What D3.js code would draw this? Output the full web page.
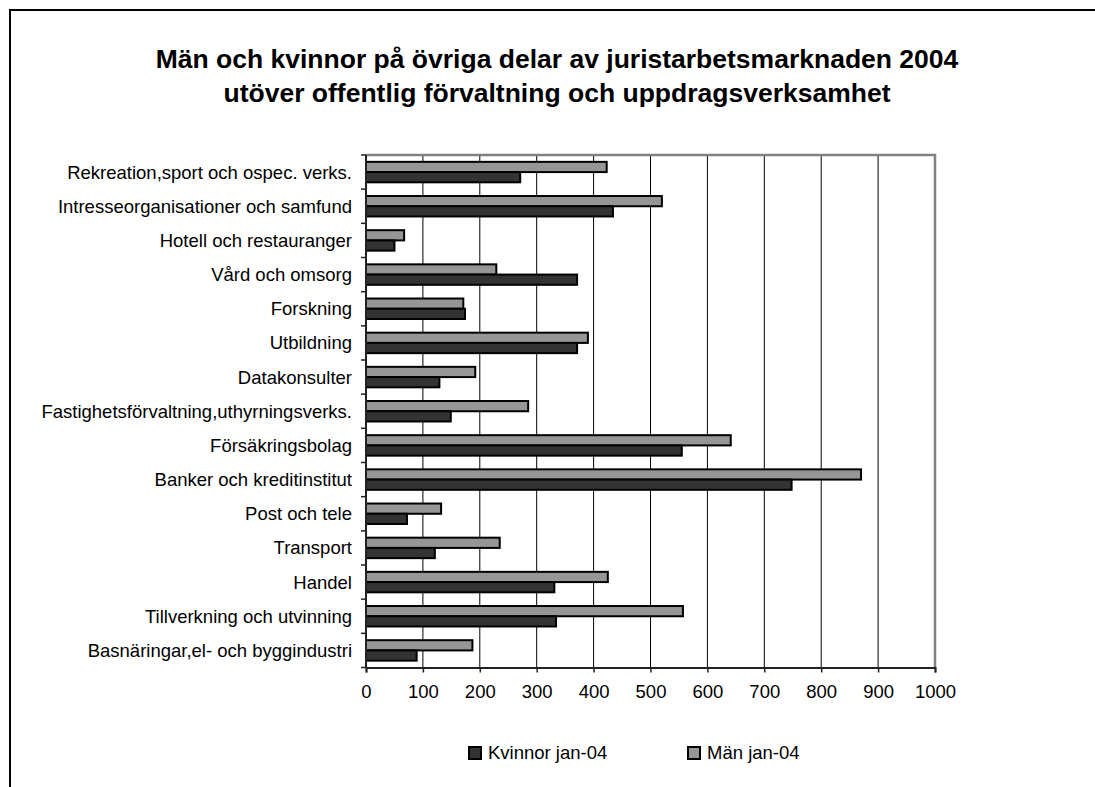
<!DOCTYPE html>
<html>
<head>
<meta charset="utf-8">
<script src="https://cdn.jsdelivr.net/npm/d3@7"></script>
<style>
	body { margin: 0; background: #fff; }
	svg { display: block; font-family: "Liberation Sans", Arial, sans-serif; }
</style>
</head>
<body>
<div id="chart"></div>
<script>
// categories, top to bottom
const categories = [
	"Rekreation,sport och ospec. verks.",
	"Intresseorganisationer och samfund",
	"Hotell och restauranger",
	"Vård och omsorg",
	"Forskning",
	"Utbildning",
	"Datakonsulter",
	"Fastighetsförvaltning,uthyrningsverks.",
	"Försäkringsbolag",
	"Banker och kreditinstitut",
	"Post och tele",
	"Transport",
	"Handel",
	"Tillverkning och utvinning",
	"Basnäringar,el- och byggindustri"
];
const kvinnor = [271, 434, 50, 371, 174, 371, 129, 149, 555, 748, 72, 121, 331, 334, 89];
const man = [423, 520, 67, 229, 171, 390, 192, 285, 641, 870, 132, 235, 425, 557, 187];
const xTicks = [0, 100, 200, 300, 400, 500, 600, 700, 800, 900, 1000];
const titleLines = [
	"Män och kvinnor på övriga delar av juristarbetsmarknaden 2004",
	"utöver offentlig förvaltning och uppdragsverksamhet"
];
const seriesNames = ["Kvinnor jan-04", "Män jan-04"];
const seriesColors = ["#333333", "#969696"];

const W = 1095, H = 787;
const plot = { left: 366, right: 935, top: 155, bottom: 667.5 };

const svg = d3.select("#chart").append("svg")
	.attr("width", W)
	.attr("height", H);

// outer chart frame (only top/left visible)
svg.append("rect")
	.attr("x", 10).attr("y", 10)
	.attr("width", 1200).attr("height", 900)
	.attr("fill", "none")
	.attr("stroke", "#000")
	.attr("stroke-width", 2);

// title
svg.append("g").selectAll("text")
	.data(titleLines)
	.join("text")
	.attr("x", 557)
	.attr("y", (d, i) => 68 + i * 34)
	.attr("text-anchor", "middle")
	.attr("font-size", 26.5)
	.attr("font-weight", "bold")
	.text(d => d);

const x = d3.scaleLinear().domain([0, 1000]).range([plot.left, plot.right]);
const y = d3.scaleBand().domain(categories).range([plot.top, plot.bottom]);
// two bars per category, with gap around them
const inner = d3.scaleBand().domain(["man", "kvinnor"]).range([0, y.bandwidth()]).paddingOuter(0.67);

// grid lines
svg.append("g").selectAll("line")
	.data(xTicks.filter(d => d > 0 && d < 1000))
	.join("line")
	.attr("x1", d => x(d)).attr("x2", d => x(d))
	.attr("y1", plot.top).attr("y2", plot.bottom)
	.attr("stroke", "#000")
	.attr("stroke-width", 1);

// plot border top/right
svg.append("path")
	.attr("d", `M${plot.left},${plot.top}H${plot.right}V${plot.bottom}`)
	.attr("fill", "none")
	.attr("stroke", "#808080")
	.attr("stroke-width", 2.5);

// bars
const rows = categories.map((c, i) => ({ cat: c, man: man[i], kvinnor: kvinnor[i] }));
const g = svg.append("g");
g.selectAll("rect.man")
	.data(rows)
	.join("rect")
	.attr("class", "man")
	.attr("x", x(0))
	.attr("y", d => y(d.cat) + inner("man"))
	.attr("width", d => x(d.man) - x(0))
	.attr("height", inner.bandwidth())
	.attr("fill", seriesColors[1])
	.attr("stroke", "#000")
	.attr("stroke-width", 2);
g.selectAll("rect.kvinnor")
	.data(rows)
	.join("rect")
	.attr("class", "kvinnor")
	.attr("x", x(0))
	.attr("y", d => y(d.cat) + inner("kvinnor"))
	.attr("width", d => x(d.kvinnor) - x(0))
	.attr("height", inner.bandwidth())
	.attr("fill", seriesColors[0])
	.attr("stroke", "#000")
	.attr("stroke-width", 2);

// x axis
const xAxis = svg.append("g")
	.attr("transform", `translate(0,${plot.bottom})`)
	.call(d3.axisBottom(x).tickValues(xTicks).tickFormat(d3.format("d")).tickSize(5).tickPadding(12));
xAxis.select(".domain").attr("stroke", "#222").attr("stroke-width", 2);
xAxis.selectAll(".tick line").attr("stroke", "#222").attr("stroke-width", 1.5);
xAxis.selectAll("text").attr("font-size", 18.5).attr("font-family", "Liberation Sans, Arial, sans-serif").attr("fill", "#000");

// y axis: ticks at category boundaries, labels at centres
const yAxis = svg.append("g")
	.attr("transform", `translate(${plot.left},0)`);
yAxis.append("line")
	.attr("x1", 0).attr("x2", 0)
	.attr("y1", plot.top).attr("y2", plot.bottom)
	.attr("stroke", "#222").attr("stroke-width", 2);
yAxis.selectAll("line.tick")
	.data(categories.map(c => y(c)).concat([plot.bottom]))
	.join("line")
	.attr("class", "tick")
	.attr("x1", -5).attr("x2", 0)
	.attr("y1", d => d).attr("y2", d => d)
	.attr("stroke", "#222").attr("stroke-width", 1.5);
yAxis.selectAll("text")
	.data(categories)
	.join("text")
	.attr("x", -14)
	.attr("y", d => y(d) + y.bandwidth() / 2)
	.attr("dy", "0.35em")
	.attr("text-anchor", "end")
	.attr("font-size", 18.5)
	.text(d => d);

// legend
const legendX = [469, 688];
const legend = svg.append("g").selectAll("g")
	.data(seriesNames)
	.join("g")
	.attr("transform", (d, i) => `translate(${legendX[i]},747)`);
legend.append("rect")
	.attr("width", 12).attr("height", 12)
	.attr("fill", (d, i) => seriesColors[i])
	.attr("stroke", "#000")
	.attr("stroke-width", 2);
legend.append("text")
	.attr("x", 19)
	.attr("y", 6)
	.attr("dy", "0.35em")
	.attr("font-size", 18.5)
	.text(d => d);
</script>
</body>
</html>
